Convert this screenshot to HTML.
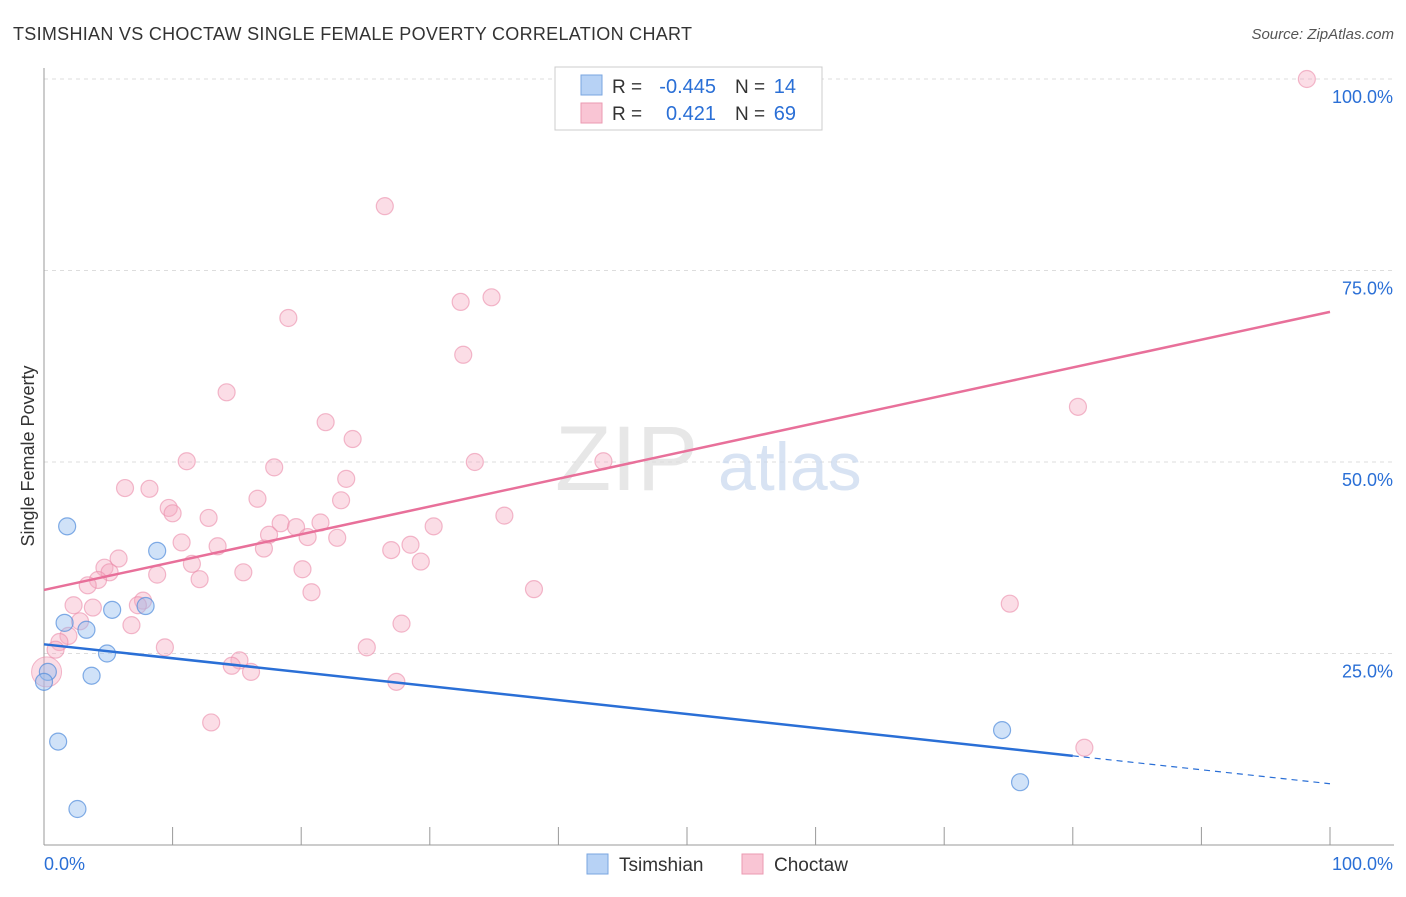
<!DOCTYPE html>
<html><head><meta charset="utf-8">
<style>
body{margin:0;background:#fff;font-family:"Liberation Sans",sans-serif;}
svg text{font-family:"Liberation Sans",sans-serif;}
</style></head>
<body>
<svg id="chart" width="1406" height="892" xmlns="http://www.w3.org/2000/svg">
<text x="13" y="40" font-size="18" fill="#333" textLength="679" lengthAdjust="spacing">TSIMSHIAN VS CHOCTAW SINGLE FEMALE POVERTY CORRELATION CHART</text>
<text x="1394" y="39" font-size="15" fill="#555" text-anchor="end" font-style="italic">Source: ZipAtlas.com</text>
<g id="grid"></g>
<text x="555" y="490" font-size="92" fill="#ddd" font-family="Liberation Serif" opacity="0.7">ZIP</text>
<text x="718" y="490" font-size="68" fill="#c8d8ee" opacity="0.7">atlas</text>
<g id="axes"></g>
<g id="marks"></g>
<g id="lines"></g>
<g>
<rect x="555" y="67" width="267" height="63" fill="#fff" stroke="#ccc"/>
<rect x="581" y="75" width="21" height="20" fill="#b7d2f5" stroke="#7aa6e0"/>
<rect x="581" y="103" width="21" height="20" fill="#f9c5d4" stroke="#eb9ab2"/>
<text x="612" y="93" font-size="19" fill="#333">R =</text>
<text x="716" y="93" font-size="20" fill="#2a6fd6" text-anchor="end">-0.445</text>
<text x="735" y="93" font-size="19" fill="#333">N =</text>
<text x="796" y="93" font-size="20" fill="#2a6fd6" text-anchor="end">14</text>
<text x="612" y="120" font-size="19" fill="#333">R =</text>
<text x="716" y="120" font-size="20" fill="#2a6fd6" text-anchor="end">0.421</text>
<text x="735" y="120" font-size="19" fill="#333">N =</text>
<text x="796" y="120" font-size="20" fill="#2a6fd6" text-anchor="end">69</text>
</g>
<g>
<rect x="587" y="854" width="21" height="20" fill="#b7d2f5" stroke="#7aa6e0"/>
<text x="619" y="871" font-size="19" fill="#333">Tsimshian</text>
<rect x="742" y="854" width="21" height="20" fill="#f9c5d4" stroke="#eb9ab2"/>
<text x="774" y="871" font-size="19" fill="#333">Choctaw</text>
</g>
<text transform="translate(34,456) rotate(-90)" font-size="18" fill="#333" text-anchor="middle">Single Female Poverty</text>
</svg>
<script>
const yTicks=[25,50,75,100];
const yTickLabels=["25.0%","50.0%","75.0%","100.0%"];
const tsimX=[1.8,8.8,5.3,7.9,1.6,3.3,4.9,0.3,0,3.7,1.1,2.6,74.5,75.9];
const tsimY=[41.6,38.4,30.7,31.2,29.0,28.1,25.0,22.6,21.3,22.1,13.5,4.7,15.0,8.2];
const choX=[98.2,26.5,34.8,32.4,19.0,32.6,14.2,80.4,21.9,24.0,11.1,33.5,43.5,17.9,23.5,6.3,8.2,16.6,23.1,9.7,10.0,12.8,35.8,18.4,21.5,19.6,30.3,17.5,20.5,22.8,10.7,13.5,17.1,28.5,27.0,5.8,29.3,11.5,4.7,5.1,15.5,20.1,8.8,12.1,4.2,3.4,20.8,38.1,2.3,7.7,7.3,3.8,75.1,2.8,6.8,27.8,1.9,1.2,0.9,9.4,25.1,15.2,14.6,16.1,27.4,13.0,80.9];
const choY=[100,83.4,71.5,70.9,68.8,64.0,59.1,57.2,55.2,53.0,50.1,50.0,50.1,49.3,47.8,46.6,46.5,45.2,45.0,44.0,43.3,42.7,43.0,42.0,42.1,41.5,41.6,40.5,40.2,40.1,39.5,39.0,38.7,39.2,38.5,37.4,37.0,36.7,36.2,35.6,35.6,36.0,35.3,34.7,34.6,33.9,33.0,33.4,31.3,31.9,31.3,31.0,31.5,29.2,28.7,28.9,27.3,26.5,25.5,25.8,25.8,24.1,23.4,22.6,21.3,16.0,12.7];
const X0=44,X1=1330,Y0=845,Y100=79;
const sx=v=>X0+(X1-X0)*v/100, sy=v=>Y0-(Y0-Y100)*v/100;
const NS="http://www.w3.org/2000/svg";
function mk(t,a,p){const e=document.createElementNS(NS,t);for(const k in a)e.setAttribute(k,a[k]);p.appendChild(e);return e;}
const grid=document.getElementById('grid'),axes=document.getElementById('axes'),marks=document.getElementById('marks'),lines=document.getElementById('lines');
yTicks.forEach((t,i)=>{
 const l=mk('line',{x1:44,x2:1394,y1:sy(t),y2:sy(t),stroke:'#ddd','stroke-dasharray':'4,4'},grid);
 
 
 const tx=mk('text',{x:1393,y:sy(t)+24,'font-size':18,fill:'#2a6fd6','text-anchor':'end'},axes);
 tx.textContent=yTickLabels[i];
 
 
});
mk('line',{x1:44,x2:44,y1:68,y2:845,stroke:'#999'},axes);
mk('line',{x1:44,x2:1394,y1:845,y2:845,stroke:'#999'},axes);
for(let i=1;i<=10;i++){mk('line',{x1:sx(i*10),x2:sx(i*10),y1:827,y2:845,stroke:'#999'},axes);}
const xl=mk('text',{x:44,y:870,'font-size':18,fill:'#2a6fd6'},axes);xl.textContent='0.0%';


const xr=mk('text',{x:1393,y:870,'font-size':18,fill:'#2a6fd6','text-anchor':'end'},axes);xr.textContent='100.0%';


choX.forEach((v,i)=>{
 const c=mk('circle',{cx:sx(v),cy:sy(choY[i]),r:8.5,fill:'rgba(246,170,193,0.4)',stroke:'rgba(235,140,170,0.6)','stroke-width':1.2},marks);
 
 
});
const big=mk('circle',{cx:sx(0.2),cy:sy(22.6),r:15,fill:'rgba(246,170,193,0.4)',stroke:'rgba(235,140,170,0.6)'},marks);


tsimX.forEach((v,i)=>{
 const c=mk('circle',{cx:sx(v),cy:sy(tsimY[i]),r:8.5,fill:'rgba(150,190,240,0.45)',stroke:'rgba(80,140,220,0.7)','stroke-width':1.2},marks);
 
 
});
const pinkFit=[33.3,69.6], blueFit=[26.2,8.0], blueSolidEnd=80;
const pl=mk('line',{x1:sx(0),y1:sy(pinkFit[0]),x2:sx(100),y2:sy(pinkFit[1]),stroke:'#e8709a','stroke-width':2.5},lines);


const by=x=>blueFit[0]+(blueFit[1]-blueFit[0])*x/100;
const bl=mk('line',{x1:sx(0),y1:sy(by(0)),x2:sx(blueSolidEnd),y2:sy(by(blueSolidEnd)),stroke:'#2a6fd6','stroke-width':2.5},lines);


const bd=mk('line',{x1:sx(blueSolidEnd),y1:sy(by(blueSolidEnd)),x2:sx(100),y2:sy(by(100)),stroke:'#2a6fd6','stroke-width':1.2,'stroke-dasharray':'6,5'},lines);


</script>
</body></html>
